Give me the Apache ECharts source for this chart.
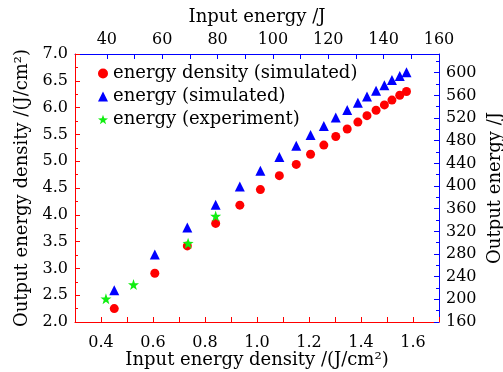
<!DOCTYPE html>
<html>
<head>
<meta charset="utf-8">
<script src="https://cdn.jsdelivr.net/npm/echarts@6/dist/echarts.min.js"></script>
<style>
  html, body { margin: 0; padding: 0; background: #fff; }
  #chart { width: 503px; height: 372px; }
</style>
</head>
<body>
<div id="chart"></div>
<script>
// input energy density (J/cm^2) of the simulated points
const inputDensity = [0.451, 0.607, 0.732, 0.841, 0.934, 1.013, 1.086, 1.151, 1.206, 1.257,
  1.303, 1.347, 1.388, 1.423, 1.458, 1.490, 1.519, 1.549, 1.575];
// output energy density, simulated (left axis)
const densitySim = [2.25, 2.91, 3.42, 3.84, 4.18, 4.47, 4.73, 4.94, 5.13, 5.30,
  5.46, 5.60, 5.73, 5.85, 5.95, 6.05, 6.14, 6.23, 6.30];
// output energy /J, simulated (right axis)
const energySim = [216, 279, 327, 367, 399, 427, 451, 471, 490, 506,
  521, 534, 547, 558, 568, 578, 587, 594, 601];
// experiment
const expDensity = [0.419, 0.525, 0.735, 0.841];
const energyExp = [201, 226, 299, 347];

const topTicks = [40, 50, 60, 70, 80, 90, 100, 110, 120, 130, 140, 150, 160];
const topLabels = [40, 60, 80, 100, 120, 140, 160];

const font = 'DejaVu Serif';
const red = '#ff0000';
const blue = '#0000ff';

const chart = echarts.init(document.getElementById('chart'));

const labelStyle = { color: '#000', fontFamily: font, fontSize: 16 };
const nameStyle = { color: '#000', fontFamily: font, fontSize: 18 };

chart.setOption({
  animation: false,
  backgroundColor: '#fff',
  grid: { left: 75, right: 64, top: 54, bottom: 50, outerBoundsMode: 'none' },
  legend: {
    orient: 'vertical',
    left: 98,
    top: 64.5,
    padding: 0,
    itemWidth: 10,
    itemHeight: 10,
    itemGap: 5,
    textStyle: { color: '#000', fontFamily: font, fontSize: 18 },
    data: ['energy density (simulated)', 'energy (simulated)', 'energy (experiment)']
  },
  xAxis: [
    {
      type: 'value',
      position: 'bottom',
      min: 0.3,
      max: 1.7,
      interval: 0.1,
      name: 'Input energy density /(J/cm²)',
      nameLocation: 'middle',
      nameGap: 29,
      nameMoveOverlap: false,
      nameTextStyle: nameStyle,
      axisLine: { lineStyle: { color: red, width: 1 } },
      axisTick: { inside: true, length: 5, lineStyle: { color: red } },
      axisLabel: Object.assign({}, labelStyle, {
        margin: 13,
        formatter: v => (Math.round(v * 10) % 2 === 0 ? v.toFixed(1) : '')
      }),
      splitLine: { show: false }
    },
    {
      type: 'value',
      position: 'top',
      min: 28.5,
      max: 160,
      name: 'Input energy /J',
      nameLocation: 'middle',
      nameGap: 28,
      nameMoveOverlap: false,
      nameTextStyle: nameStyle,
      axisLine: { lineStyle: { color: blue, width: 1 } },
      axisTick: { inside: true, length: 5, lineStyle: { color: blue }, customValues: topTicks },
      axisLabel: Object.assign({}, labelStyle, { margin: 6, customValues: topLabels }),
      splitLine: { show: false }
    }
  ],
  yAxis: [
    {
      type: 'value',
      position: 'left',
      min: 2,
      max: 7,
      interval: 0.5,
      name: 'Output energy density /(J/cm²)',
      nameLocation: 'middle',
      nameGap: 44,
      nameMoveOverlap: false,
      nameTextStyle: nameStyle,
      axisLine: { lineStyle: { color: red, width: 1 } },
      axisTick: { inside: true, length: 5, lineStyle: { color: red } },
      minorTick: { show: true, splitNumber: 2, length: 3, lineStyle: { color: red } },
      axisLabel: Object.assign({}, labelStyle, { margin: 7, formatter: v => v.toFixed(1) }),
      splitLine: { show: false }
    },
    {
      type: 'value',
      position: 'right',
      min: 160,
      max: 633,
      interval: 40,
      name: 'Output energy /J',
      nameLocation: 'middle',
      nameGap: 47,
      nameMoveOverlap: false,
      nameTextStyle: nameStyle,
      axisLine: { lineStyle: { color: blue, width: 1 } },
      axisTick: { inside: true, length: 5, lineStyle: { color: blue } },
      minorTick: { show: true, splitNumber: 2, length: 3, lineStyle: { color: blue } },
      axisLabel: Object.assign({}, labelStyle, { margin: 7, showMaxLabel: false }),
      splitLine: { show: false }
    }
  ],
  series: [
    {
      name: 'energy density (simulated)',
      type: 'scatter',
      xAxisIndex: 0,
      yAxisIndex: 0,
      symbol: 'circle',
      symbolSize: 9,
      itemStyle: { color: red, opacity: 1 },
      data: inputDensity.map((x, i) => [x, densitySim[i]])
    },
    {
      name: 'energy (simulated)',
      type: 'scatter',
      xAxisIndex: 0,
      yAxisIndex: 1,
      symbol: 'triangle',
      symbolSize: 10,
      itemStyle: { color: blue, opacity: 1 },
      data: inputDensity.map((x, i) => [x, energySim[i]])
    },
    {
      name: 'energy (experiment)',
      type: 'scatter',
      xAxisIndex: 0,
      yAxisIndex: 1,
      symbol: 'path://M0,-10 L2.35,-3.24 L9.51,-3.09 L3.8,1.24 L5.88,8.09 L0,4 L-5.88,8.09 L-3.8,1.24 L-9.51,-3.09 L-2.35,-3.24 Z',
      symbolSize: 11,
      z: 3,
      itemStyle: { color: '#11ee11', opacity: 1 },
      data: expDensity.map((x, i) => [x, energyExp[i]])
    }
  ]
});
</script>
</body>
</html>
